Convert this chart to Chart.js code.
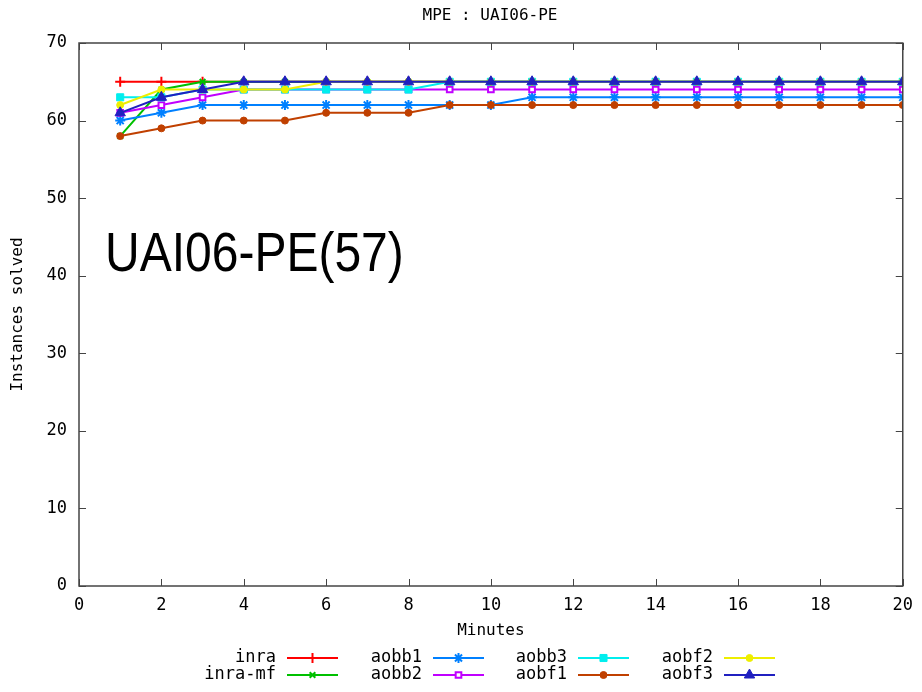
<!DOCTYPE html>
<html>
<head>
<meta charset="utf-8">
<title>MPE : UAI06-PE</title>
<script src="https://cdn.jsdelivr.net/npm/chart.js@4/dist/chart.umd.min.js"></script>
<style>
    html, body { margin: 0; padding: 0; background: #fff; }
    #wrap { width: 922px; height: 692px; position: relative; }
</style>
</head>
<body>
<div id="wrap"><canvas id="mpeChart"></canvas></div>
<script>
// Tiempos (minutos) e instancias resueltas por cada algoritmo
const minutes = [1, 2, 3, 4, 5, 6, 7, 8, 9, 10, 11, 12, 13, 14, 15, 16, 17, 18, 19, 20];
const inra   = [65, 65, 65, 65, 65, 65, 65, 65, 65, 65, 65, 65, 65, 65, 65, 65, 65, 65, 65, 65];
const inraMf = [58, 64, 65, 65, 65, 65, 65, 65, 65, 65, 65, 65, 65, 65, 65, 65, 65, 65, 65, 65];
const aobb1  = [60, 61, 62, 62, 62, 62, 62, 62, 62, 62, 63, 63, 63, 63, 63, 63, 63, 63, 63, 63];
const aobb2  = [61, 62, 63, 64, 64, 64, 64, 64, 64, 64, 64, 64, 64, 64, 64, 64, 64, 64, 64, 64];
const aobb3  = [63, 63, 64, 64, 64, 64, 64, 64, 65, 65, 65, 65, 65, 65, 65, 65, 65, 65, 65, 65];
const aobf1  = [58, 59, 60, 60, 60, 61, 61, 61, 62, 62, 62, 62, 62, 62, 62, 62, 62, 62, 62, 62];
const aobf2  = [62, 64, 64, 64, 64, 65, 65, 65, 65, 65, 65, 65, 65, 65, 65, 65, 65, 65, 65, 65];
const aobf3  = [61, 63, 64, 65, 65, 65, 65, 65, 65, 65, 65, 65, 65, 65, 65, 65, 65, 65, 65, 65];

const xTicks = [0, 2, 4, 6, 8, 10, 12, 14, 16, 18, 20];
const yTicks = [0, 10, 20, 30, 40, 50, 60, 70];

const series = [
    { label: 'inra',    values: inra,   color: '#ff0000', style: 'cross',    radius: 5,   fill: '#ff0000', bw: 2 },
    { label: 'inra-mf', values: inraMf, color: '#00c000', style: 'crossRot', radius: 4,   fill: '#00c000', bw: 2 },
    { label: 'aobb1',   values: aobb1,  color: '#0080ff', style: 'star',     radius: 5,   fill: '#0080ff', bw: 2 },
    { label: 'aobb2',   values: aobb2,  color: '#c000ff', style: 'rect',     radius: 4,   fill: '#ffffff', bw: 2 },
    { label: 'aobb3',   values: aobb3,  color: '#00eeee', style: 'rect',     radius: 5,   fill: '#00eeee', bw: 1 },
    { label: 'aobf1',   values: aobf1,  color: '#c04000', style: 'circle',   radius: 3.5, fill: '#c04000', bw: 1 },
    { label: 'aobf2',   values: aobf2,  color: '#eeee00', style: 'circle',   radius: 3.5, fill: '#eeee00', bw: 1 },
    { label: 'aobf3',   values: aobf3,  color: '#2020c0', style: 'triangle', radius: 6,   fill: '#2020c0', bw: 1 }
];

const MONO = '"DejaVu Sans Mono", monospace';
const AXIS_COLOR = '#444444';

// Marco completo con marcas hacia dentro en los cuatro lados
const frame = {
    id: 'frame',
    afterDatasetsDraw(chart) {
        const { ctx, chartArea: a, scales } = chart;
        ctx.save();
        ctx.strokeStyle = AXIS_COLOR;
        ctx.lineWidth = 1.5;
        ctx.strokeRect(a.left, a.top, a.right - a.left, a.bottom - a.top);
        ctx.lineWidth = 1;
        ctx.beginPath();
        xTicks.forEach(v => {
            const x = Math.round(scales.x.getPixelForValue(v)) + 0.5;
            ctx.moveTo(x, a.bottom); ctx.lineTo(x, a.bottom - 7);
            ctx.moveTo(x, a.top);    ctx.lineTo(x, a.top + 7);
        });
        yTicks.forEach(v => {
            const y = Math.round(scales.y.getPixelForValue(v)) + 0.5;
            ctx.moveTo(a.left, y);  ctx.lineTo(a.left + 7, y);
            ctx.moveTo(a.right, y); ctx.lineTo(a.right - 7, y);
        });
        ctx.stroke();
        ctx.restore();
    }
};

// Titulo, rotulo grande y leyenda en dos filas
const overlay = {
    id: 'overlay',
    afterDraw(chart) {
        const { ctx, chartArea: a } = chart;
        ctx.save();
        ctx.fillStyle = '#000';
        ctx.font = '16px ' + MONO;
        ctx.textAlign = 'center';
        ctx.textBaseline = 'middle';
        ctx.fillText('MPE : UAI06-PE', 490, 16);

        // rotulo del benchmark, algo estirado en vertical
        ctx.save();
        ctx.translate(a.left + 26, 271);
        ctx.scale(1, 1.15);
        ctx.font = '48px "Liberation Sans", Arial, sans-serif';
        ctx.textAlign = 'left';
        ctx.textBaseline = 'alphabetic';
        ctx.fillText('UAI06-PE(57)', 0, 0);
        ctx.restore();

        const colRight = [276, 422, 567, 713];
        const rowY = [658, 675];
        ctx.font = '17px ' + MONO;
        ctx.textAlign = 'right';
        series.forEach((s, i) => {
            const col = Math.floor(i / 2), row = i % 2;
            const tx = colRight[col], y = rowY[row];
            ctx.fillStyle = '#000';
            ctx.fillText(s.label, tx, y);
            const x1 = tx + 11, x2 = x1 + 51;
            ctx.strokeStyle = s.color;
            ctx.lineWidth = 2;
            ctx.beginPath();
            ctx.moveTo(x1, y); ctx.lineTo(x2, y);
            ctx.stroke();
            ctx.fillStyle = s.fill;
            ctx.lineWidth = s.bw;
            Chart.helpers.drawPoint(ctx, { pointStyle: s.style, radius: s.radius, rotation: 0, borderWidth: s.bw }, (x1 + x2) / 2, y);
        });
        ctx.restore();
    }
};

const datasets = series.map((s, i) => ({
    label: s.label,
    data: minutes.map((m, k) => ({ x: m, y: s.values[k] })),
    borderColor: s.color,
    backgroundColor: s.fill,
    pointBorderColor: s.color,
    pointBackgroundColor: s.fill,
    pointStyle: s.style,
    pointRadius: s.radius,
    pointBorderWidth: s.bw,
    borderWidth: 2,
    tension: 0,
    order: series.length - i
}));

new Chart(document.getElementById('mpeChart'), {
    type: 'line',
    data: { datasets },
    options: {
        responsive: true,
        maintainAspectRatio: false,
        animation: false,
        layout: { padding: { left: 0, right: 15, top: 43, bottom: 46 } },
        plugins: {
            legend: { display: false },
            title: { display: false },
            tooltip: { enabled: false }
        },
        scales: {
            x: {
                type: 'linear',
                min: 0, max: 20,
                afterBuildTicks: scale => { scale.ticks = xTicks.map(v => ({ value: v })); },
                afterFit: scale => { scale.height = 60; },
                grid: { display: false, drawTicks: false },
                border: { display: false },
                ticks: { padding: 9, color: '#000', font: { family: MONO, size: 17 }, maxRotation: 0 },
                title: { display: true, text: 'Minutes', color: '#000', font: { family: MONO, size: 16 }, padding: { top: 0, bottom: 6 } }
            },
            y: {
                min: 0, max: 70,
                afterBuildTicks: scale => { scale.ticks = yTicks.map(v => ({ value: v })); },
                afterFit: scale => { scale.width = 79; },
                grid: { display: false, drawTicks: false },
                border: { display: false },
                ticks: { padding: 12, color: '#000', font: { family: MONO, size: 17 } },
                title: { display: true, text: 'Instances solved', color: '#000', font: { family: MONO, size: 16 }, padding: { top: 8, bottom: 0 } }
            }
        }
    },
    plugins: [frame, overlay]
});
</script>
</body>
</html>
